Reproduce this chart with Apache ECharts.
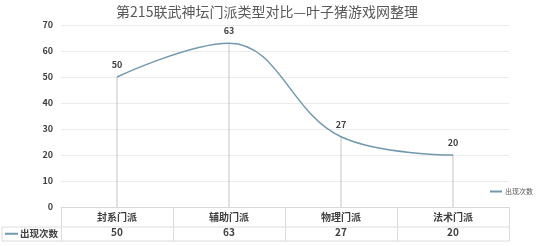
<!DOCTYPE html>
<html><head><meta charset="utf-8">
<script src="https://cdn.jsdelivr.net/npm/echarts@6/dist/echarts.min.js"></script>
<style>html,body{margin:0;padding:0;background:#fff}#c{width:540px;height:246px}</style>
</head><body><div id="c"></div>
<script>
const title = '第215联武神坛门派类型对比—叶子猪游戏网整理';
const categories = ['封系门派', '辅助门派', '物理门派', '法术门派'];
const values = [50, 63, 27, 20];
const seriesName = '出现次数';
const yTicks = {min: 0, max: 70, interval: 10};

const FONT = '"Noto Sans CJK SC", "Noto Sans", sans-serif';
const chart = echarts.init(document.getElementById('c'), null, {renderer: 'canvas'});
const lineColor = '#7298ad';
const option = {
  animation: false,
  textStyle: {fontFamily: FONT},
  title: {text: title, left: 262, textAlign: 'center', top: 0,
    textStyle: {fontSize: 14, fontWeight: 'normal', color: '#595959', fontFamily: FONT}},
  legend: [
    {data: [seriesName], right: 2, top: 183, itemWidth: 12, itemHeight: 2, itemGap: 2,
      icon: 'rect', textStyle: {fontSize: 7, color: '#595959', padding: [0,0,0,-2]}},
    {data: [seriesName], left: 0, top: 224, itemWidth: 13, itemHeight: 2, icon: 'rect',
      textStyle: {fontSize: 9.5, fontWeight: 'bold', color: '#404040', padding: [0,0,0,-3]}}
  ],
  grid: {left: 61, right: 31, top: 25, bottom: 39},
  xAxis: [
    {type: 'category', data: categories, boundaryGap: true,
      axisLine: {show: true, lineStyle: {color: '#d9d9d9'}}, axisTick: {show: false},
      axisLabel: {fontSize: 10, fontWeight: 'bold', color: '#404040', margin: 5}},
    {type: 'category', data: values.map(String), position: 'bottom', offset: 15, boundaryGap: true,
      axisLine: {show: false}, axisTick: {show: false},
      axisLabel: {fontSize: 10, fontWeight: 'bold', color: '#404040', margin: 5}}
  ],
  yAxis: {type: 'value', min: yTicks.min, max: yTicks.max, interval: yTicks.interval,
    axisLine: {show: false}, axisTick: {show: false},
    axisLabel: {fontSize: 9, fontWeight: 'bold', color: '#404040', margin: 8},
    splitLine: {lineStyle: {color: '#ececec'}}},
  series: [
    {name: 'drop', type: 'bar', data: values, barWidth: 1, silent: true,
      itemStyle: {color: '#c4c4c4'}, z: 1},
    {name: seriesName, type: 'line', data: values, smooth: 0.4, symbol: 'circle', symbolSize: 0,
      showSymbol: true,
      lineStyle: {color: lineColor, width: 1.5}, itemStyle: {color: lineColor}, z: 3,
      label: {show: true, position: 'top', distance: 8, fontSize: 9, fontWeight: 'bold', color: '#404040'}}
  ]
};
chart.setOption(option);

// table borders from axis scale
const p0 = chart.convertToPixel({xAxisIndex: 0}, categories[0]);
const p1 = chart.convertToPixel({xAxisIndex: 0}, categories[1]);
const band = p1 - p0;
const yAxisPx = chart.convertToPixel({yAxisIndex: 0}, 0);
const left = p0 - band / 2, right = left + band * categories.length;
const rowMid = yAxisPx + 20, rowBot = yAxisPx + 34;
const lines = [];
const st = {stroke: '#dcdcdc', lineWidth: 1};
lines.push({type: 'line', shape: {x1: 2, y1: rowMid, x2: right, y2: rowMid}, style: st});
lines.push({type: 'line', shape: {x1: 2, y1: rowBot, x2: right, y2: rowBot}, style: st});
lines.push({type: 'line', shape: {x1: 2, y1: rowMid, x2: 2, y2: rowBot}, style: st});
for (let i = 0; i <= categories.length; i++) {
  const x = Math.round(left + i * band) + 0.5;
  lines.push({type: 'line', shape: {x1: x, y1: yAxisPx, x2: x, y2: rowBot}, style: st});
}
chart.setOption({graphic: lines});
</script></body></html>
